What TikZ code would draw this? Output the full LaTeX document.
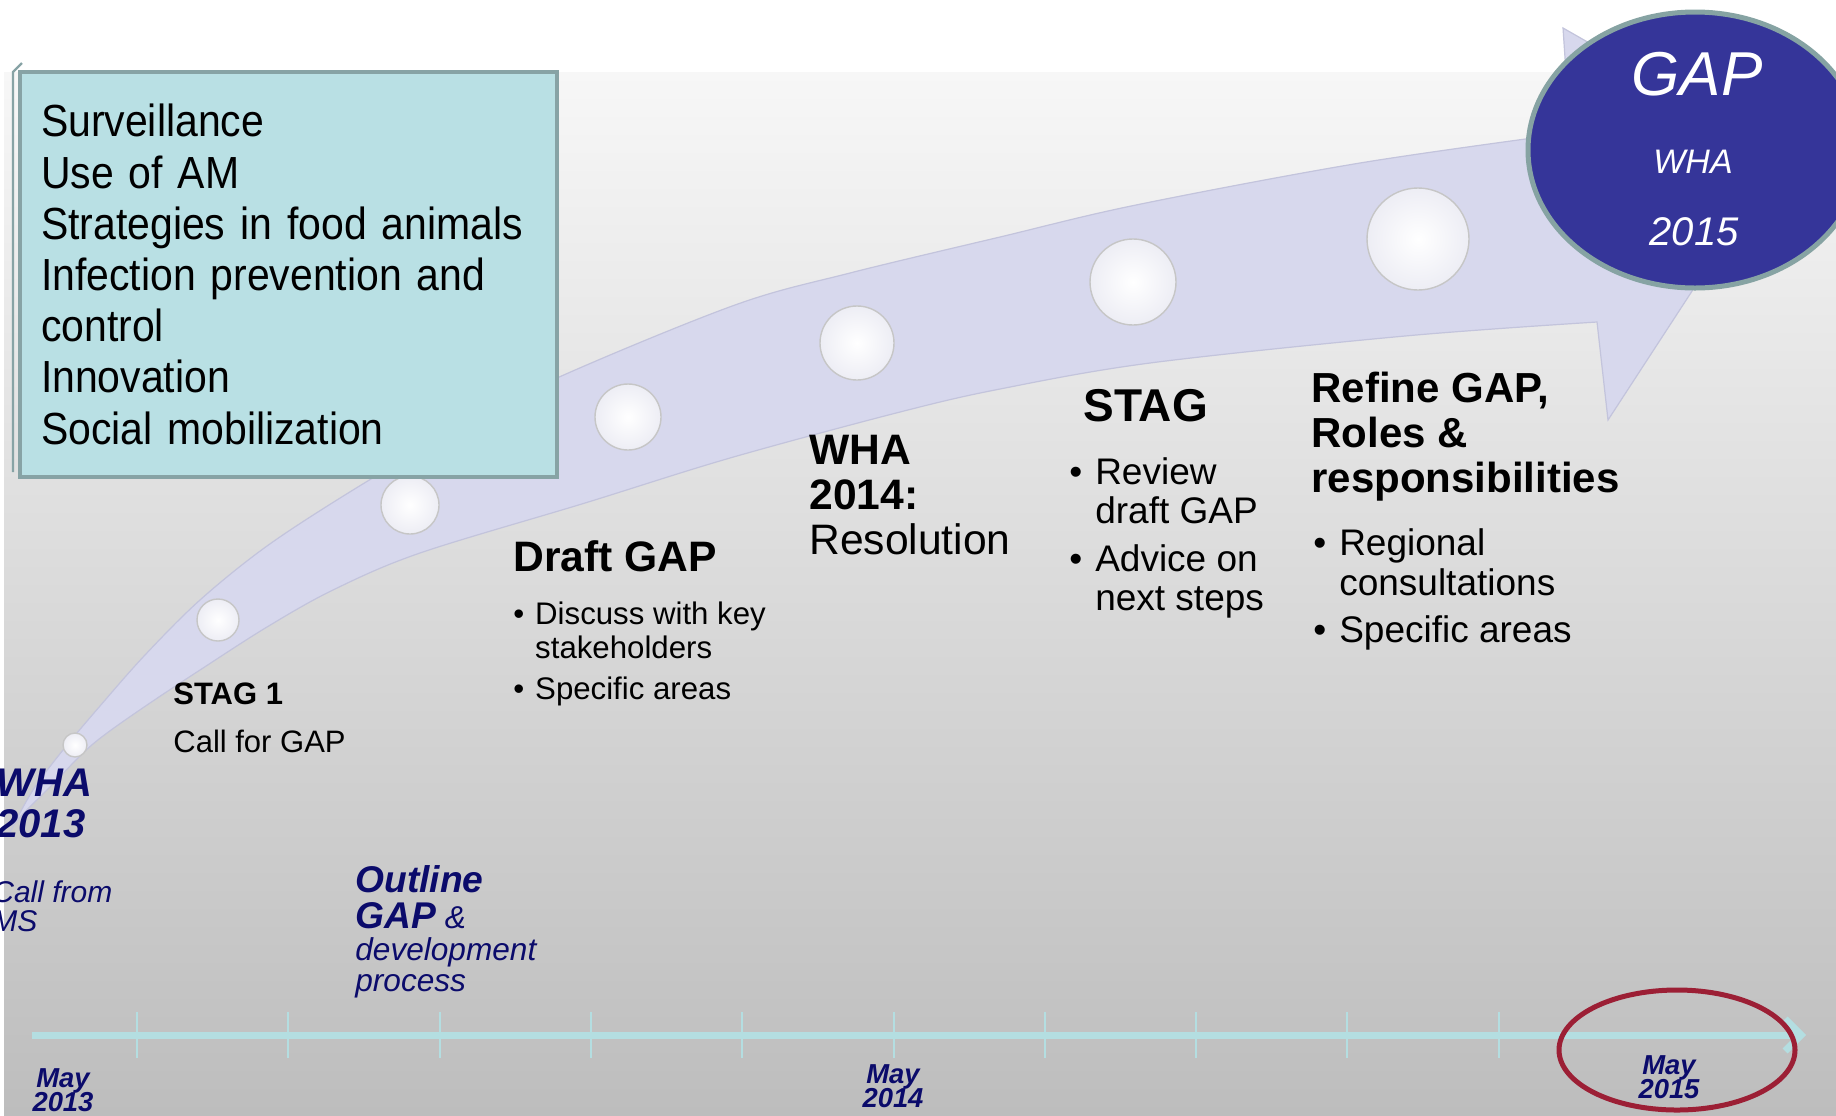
\documentclass[tikz,border=0pt]{standalone}
\usepackage{fontspec}
\setmainfont{Liberation Sans}
\newfontfamily\aimsfont[FakeStretch=0.91]{Liberation Sans}
\usetikzlibrary{arrows.meta, shapes.geometric}

\definecolor{bgTop}{HTML}{F7F7F7}
\definecolor{bgBottom}{HTML}{BDBDBD}
\definecolor{bandFill}{HTML}{D7D8ED}
\definecolor{bandEdge}{HTML}{C3C4DC}
\definecolor{boxFill}{HTML}{B9E0E4}
\definecolor{boxBorder}{HTML}{87A3A5}
\definecolor{ovalFill}{HTML}{353599}
\definecolor{ovalBorder}{HTML}{86A3A3}
\definecolor{navyText}{HTML}{0B0B6B}
\definecolor{lineCyan}{HTML}{B4DEE1}
\definecolor{ringRed}{HTML}{9C1F35}

% stacked lines, baseline on the first one
\newcommand{\lstack}[1]{\begin{tabular}[t]{@{}l@{}}#1\end{tabular}}
\newcommand{\cstack}[1]{\begin{tabular}[t]{@{}c@{}}#1\end{tabular}}
\newcommand{\bul}{\makebox[0.7em][l]{\textbullet}}
\newcommand{\bulgap}{\hspace*{0.7em}}

\begin{document}
\begin{tikzpicture}[x=0.5pt, y=-0.5pt,
    every node/.style={inner sep=0pt},
    stagetext/.style={anchor=base west},
    milestone/.style={stagetext, text=navyText},
    monthlabel/.style={anchor=base, text=navyText,
      font=\bfseries\itshape\fontsize{13.7}{12}\selectfont},
    pearl/.style={circle, draw=gray!45, line width=0.7pt,
      inner color=white, outer color=white!70!bandEdge, minimum size=#1},
    aimsbox/.style={anchor=north west, fill=boxFill, draw=boxBorder, line width=2pt,
      minimum width=268.5pt, minimum height=202.5pt, text width=247.5pt,
      inner xsep=9.5pt, align=left, font=\aimsfont\fontsize{22.5}{25.6}\selectfont},
    gapoval/.style={ellipse, fill=ovalFill, draw=ovalBorder, line width=2.5pt,
      minimum width=167pt, minimum height=138pt},
    ovaltext/.style={anchor=base, text=white, font=\itshape},
    timeline/.style={lineCyan, line width=3.5pt, -{Straight Barb[length=8pt,width=16pt]}},
    tick/.style={lineCyan, line width=1pt},
    ring/.style={ellipse, draw=ringRed, line width=2.5pt, minimum width=118pt, minimum height=60pt}]

  \useasboundingbox (0,0) rectangle (1836,1115);
  \fill[white] (0,0) rectangle (1836,1115);
  \shade[top color=bgTop, bottom color=bgBottom] (4,72) rectangle (1836,1115);

  % curved arrow
  \fill[bandFill, draw=bandEdge, line width=0.6pt]
    plot[smooth, tension=0.55] coordinates {(10,832) (33,790) (63,750) (100,706) (145,655)
      (200,600) (267,546) (353,490) (450,433) (557,378) (735,305) (850,273) (1000,237)
      (1136,205) (1360,163) (1570,133)}
    -- (1563,28) -- (1782,153) -- (1608,420) -- (1597,322)
    -- plot[smooth, tension=0.55] coordinates {(1597,322) (1405,336) (1150,363) (1000,389)
      (900,412) (730,458) (585,503) (420,553) (333,590) (267,627) (200,670) (150,703)
      (107,733) (83,753) (50,787) (20,817) (10,832)}
    -- cycle;

  \foreach \bx/\by/\br [count=\n] in {75/745/12, 218/620/21, 410/505/29, 628/417/33,
      857/343/37, 1133/282/43, 1418/239/51}
    \node[pearl=\br pt] (ball\n) at (\bx,\by) {};

  % topics box
  \draw[boxBorder, line width=1.2pt] (13,472) -- (13,72) -- (22,63);
  \node[aimsbox] (aims) at (18,70) {Surveillance\\Use of AM\\Strategies in food animals\\
    Infection prevention and\\control\\Innovation\\Social mobilization};

  \node[gapoval] (gapoval) at (1695,150) {};
  \node[ovaltext, font=\itshape\fontsize{31}{31}\selectfont] (gaptitle) at (1697,95) {GAP};
  \node[ovaltext, font=\itshape\fontsize{17}{17}\selectfont] (gapwha) at (1693,173) {WHA};
  \node[ovaltext, font=\itshape\fontsize{20}{20}\selectfont] (gapyear) at (1694,245) {2015};

  % stages
  \node[stagetext, font=\fontsize{15.5}{24}\selectfont] (stag1) at (173,704)
    {\lstack{\textbf{STAG 1}\\Call for GAP}};
  \node[stagetext, font=\bfseries\fontsize{21.3}{22.6}\selectfont] (draftgap) at (513,571) {Draft GAP};
  \node[stagetext, font=\fontsize{15.6}{17}\selectfont] (draftlist) at (513,624)
    {\lstack{\bul Discuss with key\\\bulgap stakeholders\\[3.5pt]\bul Specific areas}};
  \node[stagetext, font=\fontsize{21.3}{22.5}\selectfont] (wha14) at (809,464)
    {\lstack{\textbf{WHA}\\\textbf{2014:}\\Resolution}};
  \node[stagetext, font=\bfseries\fontsize{23}{23}\selectfont] (stag) at (1083,421) {STAG};
  \node[stagetext, font=\fontsize{18.5}{19.7}\selectfont] (staglist) at (1069,484)
    {\lstack{\bul Review\\\bulgap draft GAP\\[4.3pt]\bul Advice on\\\bulgap next steps}};
  \node[stagetext, font=\bfseries\fontsize{21}{22.7}\selectfont] (refine) at (1311,402)
    {\lstack{Refine GAP,\\Roles \&\\responsibilities}};
  \node[stagetext, font=\fontsize{18.5}{20}\selectfont] (refinelist) at (1313,555)
    {\lstack{\bul Regional\\\bulgap consultations\\[3.5pt]\bul Specific areas}};

  \node[milestone, font=\bfseries\itshape\fontsize{20}{20.5}\selectfont] (wha13) at (-4,796)
    {\lstack{WHA\\2013}};
  \node[milestone, font=\itshape\fontsize{15}{14.5}\selectfont] (callms) at (-8,902)
    {\lstack{Call from\\MS}};
  \node[milestone, font=\itshape\fontsize{15.8}{14.8}\selectfont] (outline) at (355,892)
    {\lstack{{\bfseries\fontsize{18.6}{14.8}\selectfont Outline}\\[0.8pt]
     {\bfseries\fontsize{18.6}{14.8}\selectfont GAP} \&\\development\\[0.7pt]process}};

  % time axis
  \coordinate (tlstart) at (32,1035);
  \coordinate (tlend) at (1806,1035);
  \draw[timeline] (tlstart) -- (tlend);
  \foreach \i in {0,...,9}
    \draw[tick] ({137+151.3*\i},1012) -- ++(0,46);

  \node[ring] (ring15) at (1677,1050) {};
  \node[monthlabel] (may13) at (63,1087) {\cstack{May\\[-1pt]2013}};
  \node[monthlabel] (may14) at (893,1083) {\cstack{May\\[-1pt]2014}};
  \node[monthlabel] (may15) at (1669,1074) {\cstack{May\\[-1pt]2015}};
\end{tikzpicture}
\end{document}
